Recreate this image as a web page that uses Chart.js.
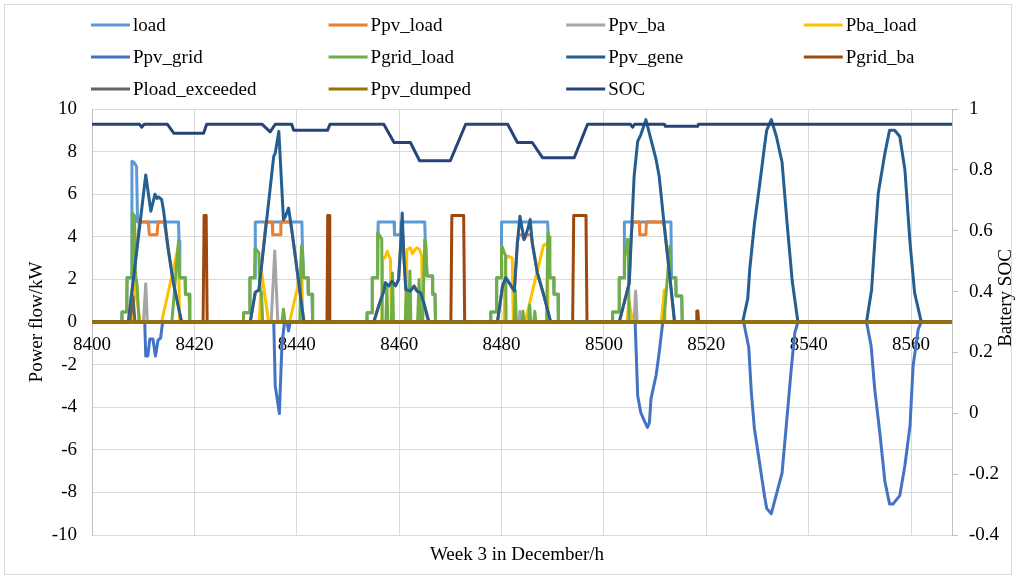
<!DOCTYPE html>
<html>
<head>
<meta charset="utf-8">
<script src="https://cdn.jsdelivr.net/npm/chart.js@4.4.1/dist/chart.umd.min.js"></script>
<style>
  html, body { margin: 0; padding: 0; background: #fff; }
</style>
</head>
<body>
<canvas id="myChart" width="1016" height="579"></canvas>
<script>
// x axis: hours of the year (week 3 in December)
const xMin = 8400, xMax = 8568, xStep = 20
const powerMin = -10, powerMax = 10, powerStep = 2
const socMin = -0.4, socMax = 1, socStep = 0.2

// each series: [hour, value] breakpoints
const load = [[8400,0],[8405.8,0],[8405.85,0.47],[8406.8,0.47],[8406.85,2.08],[8407.7,2.08],[8407.8,7.55],[8408.2,7.5],[8408.7,7.3],[8408.9,4.7],[8416.9,4.7],[8417.0,3.8],[8417.15,2.08],[8418.2,2.08],[8418.25,1.3],[8419.0,1.3],[8419.1,0],
  [8429.55,0],[8429.6,0.44],[8430.8,0.44],[8430.85,2.08],[8431.85,2.08],[8431.9,4.7],[8441.0,4.7],[8441.1,3.56],[8441.35,2.08],[8442.2,2.08],[8442.25,1.3],[8443.0,1.3],[8443.1,0],
  [8453.7,0],[8453.75,0.44],[8454.7,0.44],[8454.75,2.08],[8455.8,2.08],[8455.9,4.7],[8459.0,4.7],[8459.1,4.1],[8460.3,4.1],[8460.4,4.7],[8465.0,4.7],[8465.1,3.9],[8465.45,2.16],[8466.5,2.16],[8466.55,1.3],[8467.0,1.3],[8467.1,0],
  [8477.85,0],[8477.9,0.47],[8479.0,0.47],[8479.05,2.08],[8479.95,2.08],[8480.0,4.7],[8489.0,4.7],[8489.1,4.19],[8489.45,2.08],[8490.2,2.08],[8490.25,1.3],[8491.05,1.3],[8491.1,0],
  [8501.65,0],[8501.7,0.47],[8502.95,0.47],[8503.0,2.08],[8503.95,2.08],[8504.0,4.7],[8513.1,4.7],[8513.2,2.08],[8514.05,2.08],[8514.1,1.22],[8515.2,1.22],[8515.3,0],[8568,0]]

const ppvLoad = [[8400,0],[8407.1,0],[8409.3,4.7],[8411.0,4.7],[8411.2,4.1],[8412.7,4.1],[8412.9,4.7],[8414.1,4.7],[8414.9,3.4],[8415.9,1.84],[8417.5,0],
  [8430.9,0],[8431.9,1.4],[8432.6,1.5],[8434.0,4.7],[8435.2,4.7],[8435.3,4.1],[8436.8,4.1],[8436.9,4.7],[8438.8,4.7],[8439.1,4.19],[8441.4,0],
  [8455.05,0],[8456.0,0.75],[8457.0,1.45],[8457.3,1.84],[8458.0,1.69],[8458.6,1.92],[8459.3,1.7],[8459.9,2.0],[8460.2,3.2],[8460.45,4.1],[8460.7,4.1],[8460.9,3.2],[8461.3,1.5],[8462.2,1.45],[8462.9,1.69],[8463.5,1.45],[8464.2,1.37],[8464.8,0.91],[8465.8,0],
  [8479.2,0],[8480.2,1.69],[8480.8,2.08],[8481.5,1.84],[8482.5,1.45],[8483.1,3.72],[8483.35,4.1],[8483.9,4.1],[8484.4,3.87],[8485.0,4.1],[8485.8,4.1],[8486.0,3.72],[8487.0,2.31],[8488.3,1.22],[8489.6,0],
  [8503.0,0],[8504.3,1.22],[8504.95,1.84],[8505.3,4.0],[8505.6,4.7],[8506.9,4.7],[8507.0,4.1],[8508.2,4.1],[8508.3,4.7],[8511.5,4.7],[8511.8,4.5],[8512.8,2.31],[8513.8,0],[8568,0]]

const ppvBa = [[8400,0],[8410.05,0],[8410.5,1.8],[8410.8,0],[8435.0,0],[8435.7,3.33],[8436.3,0],
  [8483.4,0],[8483.6,0.5],[8483.8,0],[8505.9,0],[8506.2,1.45],[8506.5,0],[8568,0]]

const pbaLoad = [[8400,0],[8407.9,0],[8408.4,1.8],[8409.4,0],[8413.6,0],[8415.6,2.16],[8416.9,3.6],[8417.1,0],
  [8432.7,0],[8433.1,2.4],[8434.5,0],[8438.6,0],[8440.7,2.2],[8440.95,3.4],[8441.15,0],
  [8456.6,0],[8456.8,3.0],[8457.2,3.0],[8457.7,3.33],[8458.0,3.09],[8458.3,2.94],[8458.5,0],[8461.3,0],[8461.5,3.4],[8462.2,3.48],[8462.6,3.2],[8463.1,3.4],[8463.5,3.48],[8464.0,3.4],[8464.4,3.1],[8464.6,0],
  [8480.5,0],[8480.7,2.9],[8481.2,3.1],[8482.1,3.0],[8482.3,0],[8484.6,0],[8487.0,2.4],[8488.2,3.6],[8489.0,3.7],[8489.1,0],
  [8504.5,0],[8504.9,1.0],[8505.6,0],[8511.2,0],[8511.8,1.5],[8511.95,0],[8568,0]]

const ppvGrid = [[8400,0],[8410.3,0],[8410.5,-1.6],[8410.9,-1.6],[8411.3,-0.8],[8411.9,-0.8],[8412.4,-1.6],[8412.9,-0.85],[8413.4,-0.75],[8413.8,0],
  [8435.5,0],[8435.8,-3.0],[8436.6,-4.3],[8437.1,-1.12],[8437.6,0],[8438.1,0],[8438.4,-0.42],[8438.7,0],
  [8506.1,0],[8506.4,-2.06],[8506.6,-3.46],[8507.2,-4.25],[8507.9,-4.64],[8508.5,-4.95],[8508.9,-4.7],[8509.2,-3.6],[8510.2,-2.5],[8510.8,-1.43],[8511.5,0],
  [8527.3,0],[8528.3,-1.2],[8528.8,-3.3],[8529.4,-5.0],[8530.4,-6.6],[8531.4,-8.2],[8531.8,-8.75],[8532.7,-9.0],[8533.8,-8.0],[8534.8,-7.1],[8535.8,-4.4],[8536.6,-2.2],[8537.3,-0.5],[8537.9,0],
  [8551.3,0],[8552.2,-1.12],[8552.9,-3.15],[8553.9,-5.2],[8554.9,-7.5],[8555.8,-8.54],[8556.5,-8.54],[8557.8,-8.15],[8558.8,-6.74],[8559.8,-4.87],[8560.4,-2.06],[8561.4,-0.34],[8562.0,0],[8568,0]]

const pgridLoad = [[8400,0],[8405.8,0],[8405.85,0.47],[8406.8,0.47],[8406.85,2.08],[8407.8,2.08],[8407.9,5.1],[8408.3,5.0],[8408.5,2.2],[8408.8,1.8],[8409.2,0],[8415.6,0],[8416.9,3.8],[8417.1,2.08],[8418.2,2.08],[8418.25,1.3],[8419.0,1.3],[8419.1,0],
  [8429.55,0],[8429.6,0.44],[8430.8,0.44],[8430.85,2.08],[8431.75,2.08],[8431.85,3.48],[8432.6,3.25],[8432.75,1.5],[8433.1,1.4],[8433.35,0],[8437.1,0],[8437.4,0.6],[8437.7,0],[8440.6,0],[8440.9,3.56],[8441.1,3.4],[8441.35,2.08],[8442.2,2.08],[8442.25,1.3],[8443.0,1.3],[8443.1,0],
  [8453.7,0],[8453.75,0.44],[8454.7,0.44],[8454.75,2.08],[8455.7,2.08],[8455.8,4.2],[8456.6,3.9],[8456.7,0],[8457.4,0],[8457.6,1.7],[8457.8,0],[8458.5,0],[8458.7,2.3],[8458.9,0],[8461.2,0],[8461.4,1.6],[8461.6,0],[8461.9,0],[8462.1,2.4],[8462.3,0],[8463.6,0],[8463.9,2.0],[8464.1,0],[8464.6,0],[8465.0,3.87],[8465.2,3.7],[8465.45,2.16],[8466.5,2.16],[8466.55,1.3],[8467.0,1.3],[8467.1,0],
  [8477.85,0],[8477.9,0.47],[8479.0,0.47],[8479.05,2.08],[8479.9,2.08],[8480.0,3.6],[8480.8,3.1],[8480.9,0],[8482.5,0],[8482.7,1.5],[8482.9,0],[8484.0,0],[8484.2,0.5],[8484.4,0],[8485.3,0],[8485.5,0.8],[8485.7,0],[8486.3,0],[8486.5,0.5],[8486.7,0],[8488.8,0],[8489.05,4.19],[8489.3,4.0],[8489.45,2.08],[8490.2,2.08],[8490.25,1.3],[8491.05,1.3],[8491.1,0],
  [8501.65,0],[8501.7,0.47],[8502.95,0.47],[8503.0,2.08],[8503.95,2.08],[8504.0,3.0],[8504.6,3.87],[8504.7,3.6],[8504.95,0],[8511.7,0],[8512.9,3.56],[8513.0,2.08],[8514.05,2.08],[8514.1,1.22],[8515.2,1.22],[8515.3,0],[8568,0]]

const ppvGene = [[8400,0],[8407.1,0],[8410.5,6.9],[8411.5,5.2],[8412.3,6.0],[8412.7,5.8],[8413.0,5.87],[8413.6,5.75],[8414.0,5.2],[8414.9,3.4],[8415.9,1.84],[8417.5,0],
  [8430.9,0],[8431.9,1.4],[8432.6,1.5],[8435.5,7.78],[8435.8,7.93],[8436.5,8.95],[8437.4,4.8],[8437.8,4.97],[8438.4,5.35],[8439.1,4.19],[8441.4,0],
  [8455.05,0],[8456.0,0.75],[8457.0,1.45],[8457.3,1.84],[8458.0,1.69],[8458.6,1.92],[8459.3,1.7],[8459.9,2.0],[8460.2,3.2],[8460.6,5.12],[8460.9,3.2],[8461.3,1.53],[8462.2,1.45],[8462.9,1.69],[8463.5,1.45],[8464.2,1.37],[8464.8,0.91],[8465.8,0],
  [8479.2,0],[8480.2,1.69],[8480.8,2.08],[8481.5,1.84],[8482.5,1.45],[8483.1,3.72],[8483.6,4.97],[8484.4,3.87],[8485.1,4.34],[8485.6,4.81],[8486.0,3.72],[8487.0,2.31],[8488.3,1.22],[8489.6,0],
  [8503.0,0],[8504.3,1.22],[8504.95,1.84],[8505.6,5.28],[8505.9,6.84],[8506.6,8.48],[8507.2,8.79],[8508.2,9.5],[8509.2,8.56],[8510.2,7.62],[8510.8,6.84],[8511.8,4.5],[8512.8,2.31],[8513.8,0],
  [8527.1,0],[8528.1,1.1],[8528.5,2.5],[8529.4,4.6],[8530.4,6.4],[8531.4,8.3],[8531.8,9.0],[8532.7,9.5],[8533.7,8.71],[8534.8,7.5],[8535.8,4.6],[8536.8,1.9],[8537.9,0],
  [8551.3,0],[8552.3,1.53],[8552.9,3.72],[8553.6,6.06],[8554.9,7.93],[8555.8,9.0],[8556.8,9.0],[8557.8,8.71],[8558.8,7.15],[8559.8,3.72],[8560.7,1.37],[8562.0,0],[8568,0]]

const pgridBa = [[8400,0],[8421.7,0],[8421.9,5.0],[8422.3,5.0],[8422.5,0],[8445.9,0],[8446.05,5.0],[8446.3,5.0],[8446.45,0],
  [8470.1,0],[8470.3,5.0],[8472.6,5.0],[8472.8,0],[8493.9,0],[8494.1,5.0],[8496.5,5.0],[8496.7,0],
  [8518.0,0],[8518.15,0.52],[8518.35,0.52],[8518.5,0],[8568,0]]

const ploadExceeded = [[8400,0],[8407.4,0],[8408.0,1.2],[8408.4,0],[8568,0]]

const ppvDumped = [[8400,0],[8568,0]]

const soc = [[8400,0.95],[8409.3,0.95],[8409.7,0.94],[8410.2,0.95],[8414.7,0.95],[8416,0.92],[8421.8,0.92],[8422.4,0.95],
  [8433.2,0.95],[8434.8,0.925],[8435.8,0.95],[8439.0,0.95],[8439.4,0.93],[8446,0.93],[8446.5,0.95],
  [8457,0.95],[8459,0.89],[8462.2,0.89],[8464,0.83],[8470,0.83],[8473,0.95],
  [8481.2,0.95],[8483.1,0.89],[8486,0.89],[8488,0.84],[8494.2,0.84],[8496.8,0.95],
  [8505.2,0.95],[8505.6,0.94],[8506,0.95],[8511.8,0.95],[8512,0.943],[8518.3,0.943],[8518.5,0.95],[8568,0.95]]

const seriesNames = ['load','Ppv_load','Ppv_ba','Pba_load','Ppv_grid','Pgrid_load','Ppv_gene','Pgrid_ba','Pload_exceeded','Ppv_dumped','SOC']
const seriesData = [load, ppvLoad, ppvBa, pbaLoad, ppvGrid, pgridLoad, ppvGene, pgridBa, ploadExceeded, ppvDumped, soc]
const seriesColors = ['#5B9BD5','#ED7D31','#A5A5A5','#FFC000','#4472C4','#70AD47','#255E91','#9E480E','#636363','#997300','#264478']

const serif = '"Liberation Serif", "Times New Roman", serif'
Chart.defaults.font.family = serif
Chart.defaults.font.size = 19
Chart.defaults.color = '#000'

const datasets = seriesNames.map((name, i) => ({
    label: name,
    data: seriesData[i].map(p => ({x: p[0], y: p[1]})),
    borderColor: seriesColors[i],
    backgroundColor: seriesColors[i],
    borderWidth: 3,
    borderJoinStyle: 'round',
    borderCapStyle: 'round',
    pointRadius: 0,
    tension: 0,
    fill: false,
    yAxisID: name === 'SOC' ? 'y2' : 'y',
    // later series sit on top, like the spreadsheet
    order: seriesNames.length - i
}))

// legend grid, axis titles and the outer frame
const decor = {
    id: 'decor',
    afterDraw(chart) {
        const ctx = chart.ctx
        ctx.save()
        ctx.strokeStyle = '#d9d9d9'
        ctx.lineWidth = 1
        ctx.strokeRect(4.5, 4.5, 1007, 570)

        ctx.font = '19px ' + serif
        ctx.textBaseline = 'middle'
        ctx.textAlign = 'left'
        chart.data.datasets.forEach((ds, i) => {
            const x = 91 + (i % 4) * 237.6
            const y = 25 + Math.floor(i / 4) * 32
            ctx.strokeStyle = ds.borderColor
            ctx.lineWidth = 3
            ctx.beginPath()
            ctx.moveTo(x, y)
            ctx.lineTo(x + 39, y)
            ctx.stroke()
            ctx.fillStyle = '#000'
            ctx.fillText(ds.label, x + 42, y + 1)
        })

        ctx.textAlign = 'center'
        ctx.fillText('Week 3 in December/h', 517, 555)

        ctx.save()
        ctx.translate(37, 322)
        ctx.rotate(-Math.PI / 2)
        ctx.fillText('Power flow/kW', 0, 0)
        ctx.restore()

        ctx.save()
        ctx.translate(1006, 298)
        ctx.rotate(-Math.PI / 2)
        ctx.fillText('Battery SOC', 0, 0)
        ctx.restore()

        ctx.restore()
    }
}

const ctx = document.getElementById('myChart').getContext('2d')
const myChart = new Chart(ctx, {
    type: 'line',
    data: { datasets: datasets },
    plugins: [decor],
    options: {
        responsive: false,
        animation: false,
        layout: { padding: { left: 0, right: 0, top: 109, bottom: 44 } },
        plugins: {
            legend: { display: false },
            tooltip: { enabled: false }
        },
        scales: {
            x: {
                type: 'linear',
                position: { y: 0 },
                min: xMin,
                max: xMax,
                grid: { color: '#d9d9d9', drawTicks: false },
                border: { display: false },
                ticks: {
                    stepSize: xStep,
                    includeBounds: false,
                    padding: 12,
                    maxRotation: 0,
                    callback: v => String(v)
                }
            },
            y: {
                position: 'left',
                min: powerMin,
                max: powerMax,
                grid: { color: '#d9d9d9', drawTicks: false },
                border: { color: '#bfbfbf' },
                ticks: { stepSize: powerStep, padding: 15, callback: v => String(v) },
                afterFit: s => { s.width = 92 }
            },
            y2: {
                position: 'right',
                min: socMin,
                max: socMax,
                grid: { drawOnChartArea: false, drawTicks: true, tickLength: 6, color: '#bfbfbf' },
                border: { color: '#bfbfbf' },
                ticks: { stepSize: socStep, padding: 11, callback: v => String(Math.round(v * 10) / 10) },
                afterFit: s => { s.width = 64 }
            }
        }
    }
})
</script>
</body>
</html>
